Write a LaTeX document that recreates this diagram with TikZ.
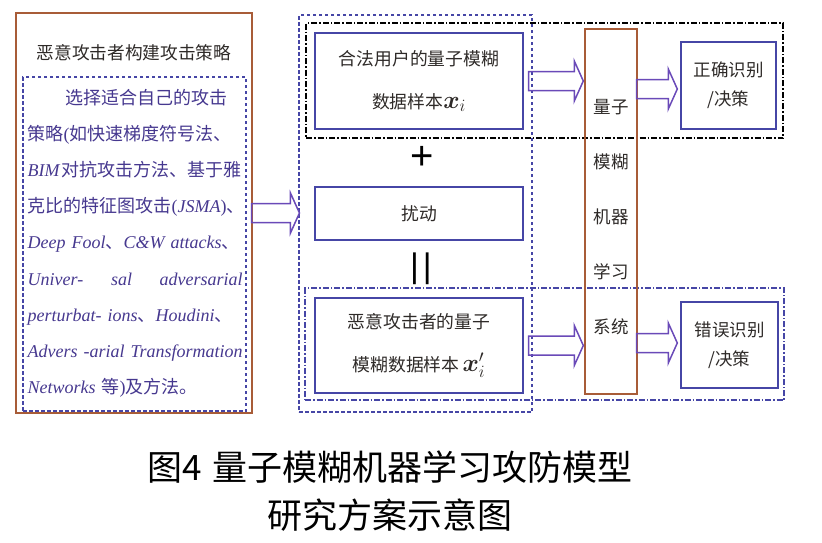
\documentclass[tikz,border=0pt]{standalone}
\usepackage{fontspec}
\usepackage{bm}
\setmainfont{Noto Sans CJK SC}
\newfontfamily\latserif{Liberation Serif}
\newfontfamily\latsans{Liberation Sans}
\usetikzlibrary{calc}
\definecolor{cbox}{HTML}{4646A6}
\definecolor{carrow}{HTML}{6A4AB8}
\definecolor{cbrown}{HTML}{A85C38}
\definecolor{ctext}{HTML}{46388F}
\definecolor{cdark}{HTML}{2E2A28}
\tikzset{
  every picture/.style={line width=1.4pt},
  frame/.style={draw=#1, inner sep=0pt},
  frame/.default=cbrown,
  dashframe/.style={draw=cbox, line width=1.1pt, dash pattern=on 3.5pt off 2.5pt, inner sep=0pt},
  dotframe/.style={draw=#1, line width=1.1pt, dash pattern=on 6pt off 2pt on 1.5pt off 2pt, inner sep=0pt},
  box/.style={draw=cbox, inner sep=0pt, align=center, text=cdark, font=\fontsize{17.8}{43}\selectfont},
  smallbox/.style={box, font=\fontsize{17.5}{29}\selectfont},
  title/.style={text=cdark, font=\fontsize{17.7}{20}\selectfont},
  para/.style={text=ctext, text width=215pt, align=left, inner sep=0pt, font=\fontsize{18}{36.2}\selectfont},
  column/.style={text=cdark, align=center, font=\fontsize{17.5}{55}\selectfont},
  sign/.style={text=black, inner sep=0pt, font=\fontsize{40}{40}\selectfont\latsans},
  hollow/.style={draw=carrow, line width=1.5pt},
  caption/.style={text=black, font=\fontsize{35}{35}\selectfont},
}
\newcommand\en[1]{{\latserif\itshape #1}}
\newcommand\rmp[1]{{\latserif #1}}
\newcommand\xsize{\fontsize{25}{25}\selectfont}
\newcommand\hollowarrow[2]{%
  \draw[hollow] let \p1=#1, \p2=#2 in
    (\x1,\y1+9.5pt) -- (\x2-9pt,\y1+9.5pt) -- (\x2-9pt,\y1+20pt) -- (\x2,\y1)
    -- (\x2-9pt,\y1-20pt) -- (\x2-9pt,\y1-9.5pt) -- (\x1,\y1-9.5pt) -- cycle;}

\begin{document}
\begin{tikzpicture}[x=1pt, y=-1pt]
  \useasboundingbox (0,0) rectangle (822,542);
  \node[frame, minimum width=236pt, minimum height=400pt] (attacker) at (134,213) {};
  \node[title] (attackertitle) at (134,53) {恶意攻击者构建攻击策略};
  \node[dashframe, minimum width=223pt, minimum height=334pt] (methodframe) at (134.5,244) {};
  \node[para, anchor=base west] (method) at (27,104) {%
    \mbox{\hspace*{38pt}选择适合自己的攻击}\\
    \mbox{策略\rmp{(}如快速梯度符号法、}\\
    \mbox{\en{BIM}\hspace{2pt}对抗攻击方法、基于雅}\\
    \mbox{克比的特征图攻击\rmp{(}\en{JSMA}\rmp{)}、}\\
    \mbox{\en{Deep Fool}、\en{C\&W attacks}、}\\
    \en{Univer-}\hfill\en{sal}\hfill\en{adversarial}\\
    \mbox{\en{perturbat- ions}、\en{Houdini}、}\\
    \mbox{\en{Advers -arial Transformation}}\\
    \mbox{\en{Networks} 等\rmp{)}及方法。}};
  \node[dashframe, minimum width=233pt, minimum height=397pt] (inputframe) at (415.5,213.5) {};
  \node[dotframe=black, minimum width=477pt, minimum height=115pt] (legitframe) at (544.5,80.5) {};
  \node[dotframe=cbox, minimum width=479pt, minimum height=112pt] (advframe) at (544.5,344) {};
  \node[box, minimum width=208pt, minimum height=96pt] (legit) at (419,81) {合法用户的量子模糊\\数据样本{\xsize$\bm{x}_i$}};
  \node[sign] (plus) at (422,158) {+};
  \node[box, minimum width=208pt, minimum height=53pt] (perturb) at (419,213.5) {扰动};
  \node[sign, font=\fontsize{34}{34}\selectfont\latsans] (equal) at (421,269) {|\hspace{4pt}|};
  \node[box, minimum width=208pt, minimum height=95pt] (adv) at (419,345.5) {恶意攻击者的量子\\模糊数据样本\,{\xsize$\bm{x}'_i$}};
  \node[frame, minimum width=52pt, minimum height=365pt] (mlsys) at (611,211.5) {};
  \node[column] (mlsyslabel) at ([yshift=-6pt]mlsys.center) {量子\\模糊\\机器\\学习\\系统};
  \node[smallbox, minimum width=95pt, minimum height=87pt] (correct) at (728.5,85.5) {正确识别\\/决策};
  \node[smallbox, minimum width=97pt, minimum height=86pt] (wrong) at (729.5,345) {错误识别\\/决策};
  \hollowarrow{([xshift=-1pt]attacker.east)}{([xshift=1pt]inputframe.west)}
  \hollowarrow{([xshift=5pt]legit.east)}{([xshift=-1pt]mlsys.west)}
  \hollowarrow{([xshift=5pt]adv.east)}{([xshift=-1pt]mlsys.west)}
  \hollowarrow{($(mlsys.east |- correct.west)+(-1,3.5)$)}{([xshift=-3pt]correct.west)}
  \hollowarrow{($(mlsys.east |- wrong.west)+(-1,-2)$)}{([xshift=-3pt]wrong.west)}
  \node[caption] (caption1) at (390,467) {图4\hspace{10pt}量子模糊机器学习攻防模型};
  \node[caption] (caption2) at (390,515) {研究方案示意图};
\end{tikzpicture}
\end{document}
